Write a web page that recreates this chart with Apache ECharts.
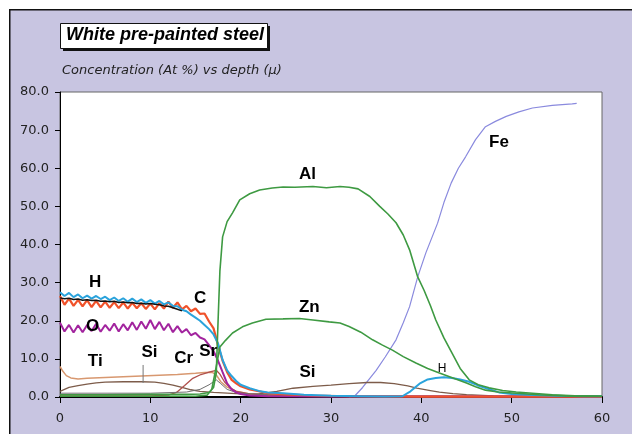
<!DOCTYPE html>
<html><head><meta charset="utf-8">
<script src="https://cdn.jsdelivr.net/npm/echarts@6/dist/echarts.min.js"></script>
<style>html,body{margin:0;padding:0;background:#fff}#c{width:632px;height:434px}</style>
</head><body><div id="c"></div>
<script>
// ---- data (depth in µm, concentration in At %) ----
var xTicks = [0, 10, 20, 30, 40, 50, 60];
var yTicks = [0, 10, 20, 30, 40, 50, 60, 70, 80];

var hX = [0,0.5,1,1.5,2,2.5,3,3.5,4,4.5,5,5.5,6,6.5,7,7.5,8,8.5,9,9.5,10,10.5,11,11.5,12,12.5,13,13.5,14,14.5,15,15.5,16,16.5,17,
  17.5,18,18.5,19,19.5,20,21,22,23,24.7,27,30,33,36,37.9,38.8,39.8,40.7,41.6,42.5,43.4,44.3,45.3,46.2,47.2,48.6,50,52.3,55,58,60];
var hY = [27.5,26.5,27.3,26.2,26.9,25.9,26.6,25.8,26.5,25.7,26.3,25.4,26.1,25.2,25.9,25.0,25.8,24.9,25.6,24.7,25.4,24.5,25.2,24.3,24.8,23.9,23.8,22.9,22.5,21.6,20.8,20.0,18.9,17.8,16.4,
  14.0,9.7,7.0,5.5,4.2,3.2,2.3,1.6,1.2,1.0,0.6,0.3,0.2,0.1,0.2,1.5,3.5,4.6,5.0,5.2,5.0,4.6,4.0,3.1,2.3,1.2,0.8,0.5,0.3,0.2,0.2];

var cX = [0,0.5,1,1.5,2,2.5,3,3.5,4,4.5,5,5.5,6,6.5,7,7.5,8,8.5,9,9.5,10,10.5,11,11.5,12,12.5,13,13.5,14,14.5,15,15.5,16,16.5,17,
  17.5,18,18.5,19,19.5,20,21,22,23,25,28,32,40,50,60];
var cY = [26.5,24.2,25.8,23.9,25.5,23.8,25.4,23.6,25.2,23.5,25.0,23.4,24.9,23.3,24.8,23.2,24.7,23.3,24.6,23.1,24.5,23.0,24.6,23.2,25.0,23.4,24.8,23.0,23.9,22.5,23.2,21.8,21.9,19.8,18.0,
  13.5,9.5,6.5,4.5,3.6,2.8,2.0,1.5,1.0,0.7,0.4,0.2,0.1,0.1,0.1];

var blackX = [0,0.5,1,1.5,2,2.5,3,3.5,4,4.5,5,5.5,6,6.5,7,7.5,8,8.5,9,9.5,10,10.5,11,11.5,12,12.5,13,13.5];
var blackY = [26.0,25.8,25.9,25.6,25.7,25.4,25.5,25.3,25.4,25.1,25.2,25.0,25.1,24.8,24.9,24.7,24.8,24.5,24.6,24.4,24.5,24.3,24.2,23.9,23.8,23.4,23.0,22.6];

var oX = [0,0.5,1,1.5,2,2.5,3,3.5,4,4.5,5,5.5,6,6.5,7,7.5,8,8.5,9,9.5,10,10.5,11,11.5,12,12.5,13,13.5,14,14.5,15,15.5,16,16.5,17,
  17.5,18,18.5,19,19.5,20,21,23,30,60];
var oY = [19.5,17.2,18.9,16.9,18.8,17.0,18.9,17.3,19.2,17.1,18.9,17.4,19.3,17.2,19.1,17.5,19.6,17.6,19.8,17.9,20.2,17.8,19.7,17.5,19.2,17.0,18.6,16.9,17.8,16.2,16.8,15.6,15.1,13.6,12.0,
  9.5,6.5,3.6,2.0,1.2,0.8,0.4,0.2,0.1,0.1];

var tiX = [0,0.3,0.7,1.2,2,3,5,7,9,11,13,15,16,16.8,17.3,17.8,18.5,19.5,21,23,26,30,60];
var tiY = [8.0,6.8,5.6,5.0,4.7,4.9,5.1,5.3,5.5,5.7,5.9,6.2,6.4,6.5,5.8,4.0,2.6,1.5,0.8,0.4,0.2,0.1,0.1];

var siX = [0,0.5,1,2,3,4,5,7,9,10.5,11.5,12.5,13.5,14.5,15.5,17,18.5,20,22,24,25.8,28,30,32,34,35.5,37,38.5,39.5,41,42,43.5,45,48,52,60];
var siY = [1.5,2.0,2.5,3.0,3.4,3.7,3.9,4.0,4.0,3.9,3.6,3.1,2.5,1.9,1.5,1.2,1.0,0.8,0.8,1.5,2.3,2.8,3.1,3.5,3.8,3.8,3.5,2.9,2.3,1.7,1.3,0.9,0.6,0.3,0.2,0.1];

var crX = [0,10,12,12.9,13.8,14.7,15.6,16.6,17.3,17.7,18.2,18.8,19.5,21,23,26,30,60];
var crY = [0.3,0.3,0.5,1.2,3.0,4.9,5.9,6.6,7.0,6.0,4.0,2.5,1.5,0.8,0.5,0.3,0.2,0.1];

var srX = [0,10,14,15.5,16.5,17.3,17.8,18.5,19.5,21,25,30,60];
var srY = [1.0,1.0,1.3,2.0,3.2,4.5,3.5,2.0,1.2,0.8,0.5,0.3,0.1];

var alX = [0,5,10,14,15.5,16.5,17.0,17.3,17.5,17.7,18.0,18.5,19.1,19.9,21,22.1,23.5,24.7,26,28,29.5,31,32,33,34.3,35.4,36.3,37.2,38,38.7,39.6,40.3,41,41.6,42.5,43.4,44.3,45.3,46.3,47.5,49,50.5,52.3,54.5,57,60];
var alY = [0.6,0.6,0.7,0.7,0.8,1.2,2.5,6.3,20,33,42,46,48.3,51.7,53.3,54.3,54.8,55.1,55.0,55.2,54.9,55.2,55.0,54.6,52.6,50,48,45.7,42.5,38.6,31.5,28,24,20.2,15.5,11.5,7.5,4.5,3.2,2.4,1.7,1.3,1.0,0.6,0.3,0.2];

var znX = [0,15,16.3,16.8,17.3,17.7,18.3,19.1,20.2,21.3,22.8,24.7,26.5,28,29.8,31,32,33.3,34.6,35.7,36.8,38,39.4,40.7,42,43.5,45,46,47.1,48.5,50.5,53,56,60];
var znY = [0.2,0.2,0.5,2,8,13.1,14.8,16.8,18.4,19.4,20.4,20.5,20.6,20.2,19.7,19.4,18.5,17.0,15.0,13.6,12.3,10.6,8.9,7.5,6.3,5.0,3.7,2.7,1.8,1.3,1.0,0.6,0.3,0.2];

var feX = [32,32.6,33.5,35,36,37.2,38,38.7,39.6,40.5,41.2,41.8,42.5,43.3,44.1,44.9,46,47.1,48.2,49.4,50.8,52.3,54.5,56.7,57.2];
var feY = [0,0.2,2.5,7,10.5,15,19.5,23.7,31.5,37.8,42,45.6,51,56.1,60,63,67.5,70.9,72.3,73.6,74.8,75.8,76.5,76.9,77.0];

// element labels (name, depth, concentration)
var labelNames = ['H','C','O','Ti','Si','Cr','Sr','Al','Zn','Si','H','Fe'];
var labelX = [3.9,15.5,3.6,3.9,9.9,13.7,16.4,27.4,27.6,27.4,42.3,48.6];
var labelY = [30.2,26.0,18.6,9.4,11.6,10.1,11.9,58.3,23.6,6.6,7.4,66.7];
// pointer from first Si label down to its curve
var siPtrX = [9.2, 9.2];
var siPtrY = [8.4, 3.7];

function zip(a, b) { return a.map(function (v, i) { return [v, b[i]]; }); }
function line(name, xs, ys, color, width, z) {
  return { name: name, type: 'line', data: zip(xs, ys), symbol: 'none', smooth: false,
    lineStyle: { color: color, width: width }, itemStyle: { color: color }, z: z, silent: true };
}

var chart = echarts.init(document.getElementById('c'), null, { renderer: 'canvas' });
var labelData = labelNames.map(function (n, i) {
  var item = { name: n, value: [labelX[i], labelY[i]] };
  if (i === 10) item.label = { fontSize: 12, fontWeight: 'normal' };
  return item;
});

chart.setOption({
  animation: false,
  backgroundColor: '#ffffff',
  graphic: [
    { type: 'rect', left: 9, top: 9, shape: { width: 700, height: 500 }, style: { fill: '#c8c5e1', stroke: '#111', lineWidth: 1.5 }, z: -10 },
    { type: 'rect', left: 63, top: 26, shape: { width: 207, height: 25 }, style: { fill: '#111' }, z: 10 },
    { type: 'rect', left: 60, top: 23, shape: { width: 207, height: 25 }, style: { fill: '#fff', stroke: '#111', lineWidth: 1 }, z: 11 },
    { type: 'text', left: 66, top: 26, style: { text: 'White pre-painted steel', font: 'italic bold 18px "Liberation Sans", Arial, sans-serif', fill: '#000' }, z: 12 },
    { type: 'text', left: 62, top: 64, style: { text: 'Concentration (At %) vs depth (\u00b5)', font: 'italic 13px "DejaVu Sans", sans-serif', fill: '#222' }, z: 12 }
  ],
  grid: { left: 60, right: 30, top: 92, bottom: 37, show: true, backgroundColor: '#ffffff', borderColor: '#666', borderWidth: 1 },
  xAxis: {
    type: 'value', min: xTicks[0], max: xTicks[xTicks.length - 1], interval: 10,
    axisLine: { lineStyle: { color: '#000', width: 2 } },
    axisTick: { show: true, length: 6, lineStyle: { color: '#000' } },
    axisLabel: { color: '#222', fontSize: 13, fontFamily: '"DejaVu Sans", sans-serif', margin: 15 },
    splitLine: { show: false }
  },
  yAxis: {
    type: 'value', min: yTicks[0], max: yTicks[yTicks.length - 1], interval: 10,
    axisLine: { show: true, lineStyle: { color: '#000', width: 1 } },
    axisTick: { show: true, length: 5, lineStyle: { color: '#000' } },
    axisLabel: { color: '#222', fontSize: 13, fontFamily: '"DejaVu Sans", sans-serif', margin: 11,
      formatter: function (v) { return v.toFixed(1); } },
    splitLine: { show: false }
  },
  series: [
    line('Fe', feX, feY, '#8a8ade', 1.2, 2),
    line('Si', siX, siY, '#7d5c4a', 1.3, 3),
    line('Ti', tiX, tiY, '#d89870', 1.5, 3),
    line('Cr', crX, crY, '#b0504c', 1.3, 3),
    line('Sr', srX, srY, '#6f6f6f', 1.0, 3),
    line('O', oX, oY, '#a2249e', 2, 4),
    line('C', cX, cY, '#f0522a', 2.2, 4),
    line('H', hX, hY, '#2aa3dc', 2, 5),
    line('N', blackX, blackY, '#111111', 1.5, 6),
    line('Zn', znX, znY, '#3e9a42', 1.6, 5),
    line('Al', alX, alY, '#3e9a42', 1.6, 5),
    { type: 'line', data: zip(siPtrX, siPtrY), symbol: 'none', lineStyle: { color: '#777', width: 1 }, z: 6, silent: true },
    { type: 'scatter', data: labelData, symbolSize: 0, z: 10, silent: true, itemStyle: { color: '#000' },
      label: { show: true, position: 'inside', formatter: '{b}', color: '#000', fontSize: 17, fontWeight: 'bold',
        textBorderWidth: 0, textBorderColor: 'transparent', opacity: 1,
        fontFamily: '"Liberation Sans", Arial, sans-serif' } }
  ]
});
</script>
</body></html>
